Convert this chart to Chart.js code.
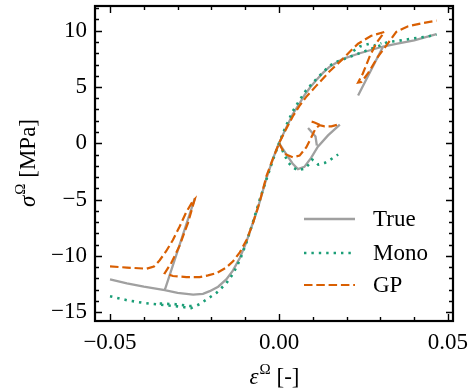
<!DOCTYPE html>
<html>
<head>
<meta charset="utf-8">
<script src="https://cdn.jsdelivr.net/npm/chart.js@4.4.0/dist/chart.umd.min.js"></script>
<style>
    html, body { margin: 0; padding: 0; background: #fff; }
</style>
</head>
<body>
<canvas id="myChart" width="469" height="391"></canvas>
<script>
// tick values
const xMajor = [-0.05, 0.00, 0.05];
const xMinor = [-0.05, -0.04, -0.03, -0.02, -0.01, 0.00, 0.01, 0.02, 0.03, 0.04, 0.05];
const xLabels = ['\u22120.05', '0.00', '0.05'];
const yMajor = [-15, -10, -5, 0, 5, 10];
const yMinor = [-15, -14, -13, -12, -11, -10, -9, -8, -7, -6, -5, -4, -3, -2, -1, 0, 1, 2, 3, 4, 5, 6, 7, 8, 9, 10, 11, 12];
const yLabels = ['\u221215', '\u221210', '\u22125', '0', '5', '10'];

// True (strain, stress) segments
const trueMain = [[-0.05, -12.1], [-0.045, -12.45], [-0.04, -12.75], [-0.0338, -13.05], [-0.03, -13.3], [-0.0254, -13.45],
    [-0.0225, -13.38], [-0.0205, -13.15], [-0.018, -12.75], [-0.0156, -12.1], [-0.0136, -11.3], [-0.0116, -10.2],
    [-0.0098, -8.9], [-0.0082, -7.5], [-0.0062, -5.7], [-0.0037, -3.1], [-0.0017, -1.3], [0, 0],
    [0.002, 1.3], [0.0041, 2.6], [0.006, 3.5], [0.0076, 4.3], [0.0093, 5.0], [0.011, 5.6], [0.013, 6.25], [0.015, 6.8],
    [0.0189, 7.5], [0.0239, 8.0], [0.0308, 8.6], [0.035, 8.85], [0.04, 9.15], [0.0466, 9.7]];
const trueUnloadNeg = [[-0.0338, -13.05], [-0.0249, -4.9]];
const trueLoop = [[0, 0], [0.002, -0.9], [0.004, -1.8], [0.0056, -2.3], [0.0075, -2.1], [0.0095, -1.3],
    [0.0115, -0.3], [0.0145, 0.7], [0.018, 1.65]];
const trueBranch = [[0.0086, 1.35], [0.0108, 0.6], [0.0112, -0.2]];
const trueUnloadPos = [[0.0234, 4.25], [0.0308, 8.6]];

// Mono segments
const monoMain = [[-0.05, -13.6], [-0.045, -13.95], [-0.04, -14.2], [-0.035, -14.35], [-0.03, -14.5], [-0.026, -14.65],
    [-0.0235, -14.3], [-0.021, -13.8], [-0.0185, -13.3], [-0.0156, -12.45], [-0.0136, -11.6], [-0.0116, -10.4],
    [-0.0096, -8.8], [-0.0077, -7.0], [-0.0057, -5.0], [-0.0037, -3.2], [-0.0017, -1.4], [0, 0],
    [0.002, 1.5], [0.004, 2.8], [0.006, 3.8], [0.008, 4.7], [0.011, 5.7], [0.015, 6.9], [0.0175, 7.3], [0.0194, 7.5],
    [0.0224, 7.85], [0.026, 8.25], [0.03, 8.7], [0.0322, 9.0], [0.0352, 9.1], [0.0392, 9.3], [0.0431, 9.45], [0.0466, 9.65]];
const monoNegRow = [[-0.0353, -14.25], [-0.031, -14.3], [-0.027, -14.45], [-0.025, -14.5]];
const monoLoop = [[0, 0], [0.0027, -1.7], [0.0041, -2.15], [0.0056, -2.4], [0.0076, -2.25], [0.0091, -1.8],
    [0.0098, -1.45], [0.0106, -1.6], [0.0116, -1.9], [0.0135, -1.75], [0.015, -1.5], [0.0175, -1.0]];
const monoBump = [[0.022, 8.2], [0.0239, 8.6], [0.0268, 8.85], [0.0283, 8.7], [0.0303, 8.9]];

// GP segments
const gpMain = [[-0.05, -10.95], [-0.045, -11.05], [-0.0392, -11.15], [-0.037, -10.95], [-0.0353, -10.4],
    [-0.0334, -9.6], [-0.0314, -8.6], [-0.0294, -7.4], [-0.0274, -6.1], [-0.0254, -5.1], [-0.0249, -4.95],
    [-0.0269, -7.05], [-0.0294, -9.1], [-0.0318, -10.6], [-0.0338, -11.55], [-0.0314, -11.8], [-0.0274, -11.9],
    [-0.0235, -11.9], [-0.021, -11.75], [-0.0185, -11.55], [-0.0156, -11.05], [-0.0136, -10.5], [-0.0116, -9.7],
    [-0.0096, -8.6], [-0.0077, -7.1], [-0.0057, -5.2], [-0.0037, -2.9], [-0.0017, -1.3], [0, 0],
    [0.002, 1.2], [0.0041, 2.4], [0.006, 3.3], [0.008, 4.1], [0.011, 5.1], [0.015, 6.4], [0.0189, 7.5],
    [0.0213, 8.25], [0.0234, 8.85], [0.0273, 9.55], [0.0312, 9.9],
    [0.0288, 8.9], [0.0268, 7.7], [0.0248, 6.2], [0.0234, 5.4], [0.0244, 5.45], [0.0263, 6.2], [0.0293, 7.7],
    [0.0318, 8.7], [0.0347, 9.9], [0.0382, 10.4], [0.0421, 10.65], [0.0466, 10.9]];
const gpLoop = [[0, 0], [0.0017, -0.95], [0.0041, -1.25], [0.0061, -1.1], [0.0081, -0.35], [0.0096, 0.55],
    [0.0108, 1.3], [0.012, 1.6], [0.0135, 1.5], [0.0155, 1.5], [0.018, 1.7]];
const gpLoopTop = [[0.012, 1.65], [0.0105, 1.85], [0.0086, 2.0]];

const FONT = "'Liberation Serif', 'DejaVu Serif', serif";

// join segments, a null point breaks the line
function joinSegments(segs) {
    var out = [];
    segs.forEach(function (seg, i) {
        if (i > 0) out.push({ x: seg[0][0], y: null });
        seg.forEach(function (p) { out.push({ x: p[0], y: p[1] }); });
    });
    return out;
}

const frameTicks = {
    id: 'frameTicks',
    afterDraw(chart) {
        const ctx = chart.ctx, a = chart.chartArea;
        const xs = chart.scales.x, ys = chart.scales.y;
        ctx.save();
        ctx.strokeStyle = '#000';
        ctx.lineWidth = 1.4;
        ctx.beginPath();
        xMinor.forEach(function (v) {
            const px = Math.round(xs.getPixelForValue(v)) + 0.5;
            const len = xMajor.indexOf(v) >= 0 ? 7 : 4;
            ctx.moveTo(px, a.bottom); ctx.lineTo(px, a.bottom - len);
            ctx.moveTo(px, a.top); ctx.lineTo(px, a.top + len);
        });
        yMinor.forEach(function (v) {
            const py = Math.round(ys.getPixelForValue(v)) + 0.5;
            const len = yMajor.indexOf(v) >= 0 ? 7 : 4;
            ctx.moveTo(a.left, py); ctx.lineTo(a.left + len, py);
            ctx.moveTo(a.right, py); ctx.lineTo(a.right - len, py);
        });
        ctx.stroke();
        ctx.lineWidth = 2.2;
        ctx.strokeRect(a.left, a.top, a.right - a.left, a.bottom - a.top);

        // axis titles with superscripts
        ctx.fillStyle = '#000';
        ctx.textBaseline = 'alphabetic';
        function drawTitle(sym, rest, cx, cy) {
            ctx.font = 'italic 23px ' + FONT;
            const w1 = ctx.measureText(sym).width;
            ctx.font = '15px ' + FONT;
            const w2 = ctx.measureText('\u03A9').width;
            ctx.font = '23px ' + FONT;
            const w3 = ctx.measureText(rest).width;
            let x = cx - (w1 + w2 + w3) / 2;
            ctx.font = 'italic 23px ' + FONT;
            ctx.fillText(sym, x, cy); x += w1;
            ctx.font = '15px ' + FONT;
            ctx.fillText('\u03A9', x + 1, cy - 10); x += w2 + 1;
            ctx.font = '23px ' + FONT;
            ctx.fillText(rest, x, cy);
        }
        drawTitle('\u03B5', ' [-]', (a.left + a.right) / 2, 384);
        ctx.save();
        ctx.translate(35, (a.top + a.bottom) / 2);
        ctx.rotate(-Math.PI / 2);
        drawTitle('\u03C3', ' [MPa]', 0, 0);
        ctx.restore();

        // legend
        const rows = [219, 253, 285];
        chart.data.datasets.forEach(function (ds, i) {
            ctx.save();
            ctx.strokeStyle = ds.borderColor;
            ctx.lineWidth = ds.borderWidth;
            ctx.setLineDash(ds.borderDash || []);
            ctx.beginPath();
            ctx.moveTo(304, rows[i]); ctx.lineTo(355, rows[i]);
            ctx.stroke();
            ctx.restore();
            ctx.font = '23px ' + FONT;
            ctx.textBaseline = 'middle';
            ctx.fillText(ds.label, 373, rows[i] + 1);
        });
        ctx.restore();
    }
};

new Chart(document.getElementById('myChart'), {
    type: 'scatter',
    data: {
        datasets: [{
            label: 'True',
            data: joinSegments([trueMain, trueUnloadNeg, trueLoop, trueBranch, trueUnloadPos]),
            borderColor: '#a0a0a0',
            borderWidth: 2.3,
            showLine: true,
            pointRadius: 0,
            order: 3
        }, {
            label: 'Mono',
            data: joinSegments([monoMain, monoNegRow, monoLoop, monoBump]),
            borderColor: '#1b9e77',
            borderWidth: 2.6,
            borderDash: [2.4, 5],
            showLine: true,
            pointRadius: 0,
            order: 2
        }, {
            label: 'GP',
            data: joinSegments([gpMain, gpLoop, gpLoopTop]),
            borderColor: '#d95f02',
            borderWidth: 2.2,
            borderDash: [8.5, 3.8],
            showLine: true,
            pointRadius: 0,
            order: 1
        }]
    },
    options: {
        responsive: false,
        animation: false,
        devicePixelRatio: 1,
        spanGaps: false,
        layout: { padding: { left: 0, top: 6, right: 16, bottom: 0 } },
        plugins: {
            legend: { display: false },
            tooltip: { enabled: false }
        },
        scales: {
            x: {
                type: 'linear',
                min: -0.05444,
                max: 0.05148,
                afterBuildTicks: function (s) { s.ticks = xMajor.map(function (v) { return { value: v }; }); },
                afterFit: function (s) { s.height = 70; s.paddingLeft = 0; s.paddingRight = 0; },
                ticks: {
                    padding: 8,
                    color: '#000',
                    font: { family: FONT, size: 23 },
                    maxRotation: 0,
                    callback: function (v) { return xLabels[xMajor.indexOf(v)]; }
                },
                grid: { display: false, drawTicks: false },
                border: { display: false }
            },
            y: {
                type: 'linear',
                min: -15.8,
                max: 12.2,
                afterBuildTicks: function (s) { s.ticks = yMajor.map(function (v) { return { value: v }; }); },
                afterFit: function (s) { s.width = 95; s.paddingTop = 0; s.paddingBottom = 0; },
                ticks: {
                    padding: 8,
                    color: '#000',
                    font: { family: FONT, size: 23 },
                    callback: function (v) { return yLabels[yMajor.indexOf(v)]; }
                },
                grid: { display: false, drawTicks: false },
                border: { display: false }
            }
        }
    },
    plugins: [frameTicks]
});
</script>
</body>
</html>
